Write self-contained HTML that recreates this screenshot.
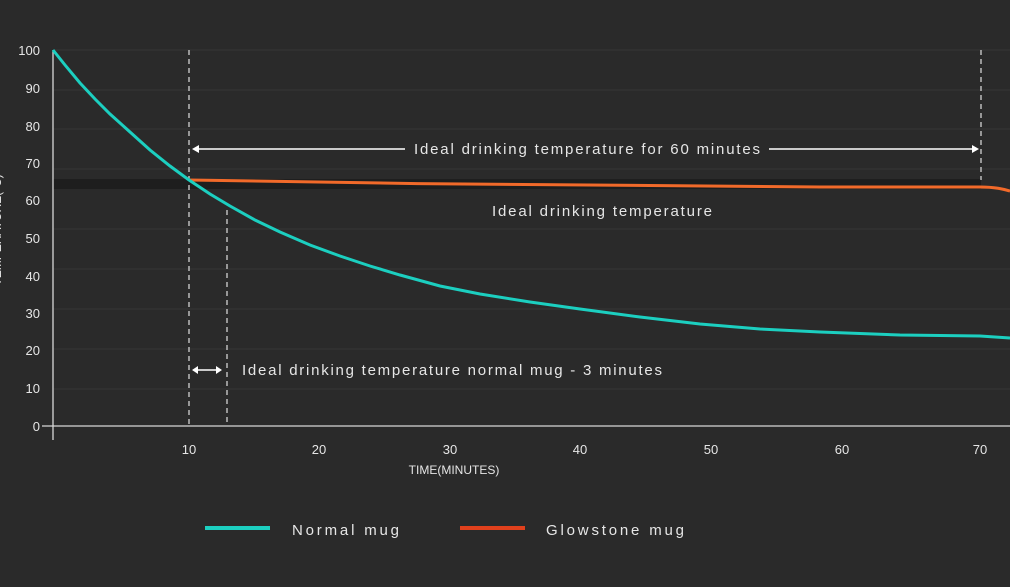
<!DOCTYPE html>
<html><head><meta charset="utf-8"><style>
html,body{margin:0;padding:0;background:#2a2a2a;}
svg{display:block;}
text{font-family:"Liberation Sans",sans-serif;fill:#e6e6e6;}
</style></head><body>
<svg width="1010" height="587" viewBox="0 0 1010 587">
<rect width="1010" height="587" fill="#2a2a2a"/>
<g stroke="#353535" stroke-width="1">
<line x1="53" x2="1010" y1="50" y2="50"/><line x1="53" x2="1010" y1="90" y2="90"/>
<line x1="53" x2="1010" y1="129" y2="129"/><line x1="53" x2="1010" y1="169" y2="169"/>
<line x1="53" x2="1010" y1="229" y2="229"/><line x1="53" x2="1010" y1="269" y2="269"/>
<line x1="53" x2="1010" y1="309" y2="309"/><line x1="53" x2="1010" y1="349" y2="349"/>
<line x1="53" x2="1010" y1="389" y2="389"/>
</g>
<rect x="53" y="179" width="928" height="10" fill="#1e1e1e"/>
<line x1="53" y1="50" x2="53" y2="440" stroke="#d8d8d8" stroke-width="1.3"/>
<line x1="42" y1="426" x2="1010" y2="426" stroke="#d8d8d8" stroke-width="1.3"/>
<g font-size="13" text-anchor="end">
<text x="40" y="55">100</text><text x="40" y="93">90</text><text x="40" y="131">80</text>
<text x="40" y="168">70</text><text x="40" y="205">60</text><text x="40" y="243">50</text>
<text x="40" y="281">40</text><text x="40" y="318">30</text><text x="40" y="355">20</text>
<text x="40" y="393">10</text><text x="40" y="431">0</text>
</g>
<text transform="translate(1,230) rotate(-90)" font-size="12" text-anchor="middle">TEMPERATURE(°C)</text>
<g font-size="13" text-anchor="middle">
<text x="189" y="454">10</text><text x="319" y="454">20</text><text x="450" y="454">30</text>
<text x="580" y="454">40</text><text x="711" y="454">50</text><text x="842" y="454">60</text>
<text x="980" y="454">70</text>
<text x="454" y="474" font-size="12">TIME(MINUTES)</text>
</g>
<g stroke="#e0e0e0" stroke-width="1.2" stroke-dasharray="5,4">
<line x1="189" y1="50" x2="189" y2="426"/>
<line x1="227" y1="210" x2="227" y2="426"/>
<line x1="981" y1="50" x2="981" y2="180"/>
</g>
<g stroke="#fff" stroke-width="1.5" fill="#fff">
<line x1="194" y1="149" x2="405" y2="149"/>
<line x1="769" y1="149" x2="976" y2="149"/>
<polygon points="192,149 199,145 199,153" stroke="none"/>
<polygon points="979,149 972,145 972,153" stroke="none"/>
<line x1="194" y1="370" x2="220" y2="370"/>
<polygon points="192,370 198,366 198,374" stroke="none"/>
<polygon points="222,370 216,366 216,374" stroke="none"/>
</g>
<g font-size="15">
<text x="414" y="154" fill="#c8c8c8" textLength="346" lengthAdjust="spacing">Ideal drinking temperature for 60 minutes</text>
<text x="492" y="216" fill="#c8c8c8" textLength="220" lengthAdjust="spacing">Ideal drinking temperature</text>
<text x="242" y="375" fill="#c8c8c8" textLength="420" lengthAdjust="spacing">Ideal drinking temperature normal mug - 3 minutes</text>
</g>
<path d="M189,180 C400,184 700,187 820,187 L980,187 C995,187 1003,189 1010,191" fill="none" stroke="#f26a2a" stroke-width="3"/>
<polyline fill="none" stroke="#1ccfc0" stroke-width="3" points="53,50 65,65 80,83 95,99 110,114 130,132 150,150 170,166 189,180 210,194 230,206 255,220 280,232 310,245 340,256 370,266 400,275 440,286 480,294 530,302 580,309 640,317 700,324 760,329 820,332 900,335 980,336 1010,338"/>
<line x1="205" y1="528" x2="270" y2="528" stroke="#1ccfc0" stroke-width="4"/>
<line x1="460" y1="528" x2="525" y2="528" stroke="#e0401c" stroke-width="4"/>
<g font-size="15">
<text x="292" y="535" textLength="107" lengthAdjust="spacing">Normal mug</text>
<text x="546" y="535" textLength="138" lengthAdjust="spacing">Glowstone mug</text>
</g>
</svg>
</body></html>
